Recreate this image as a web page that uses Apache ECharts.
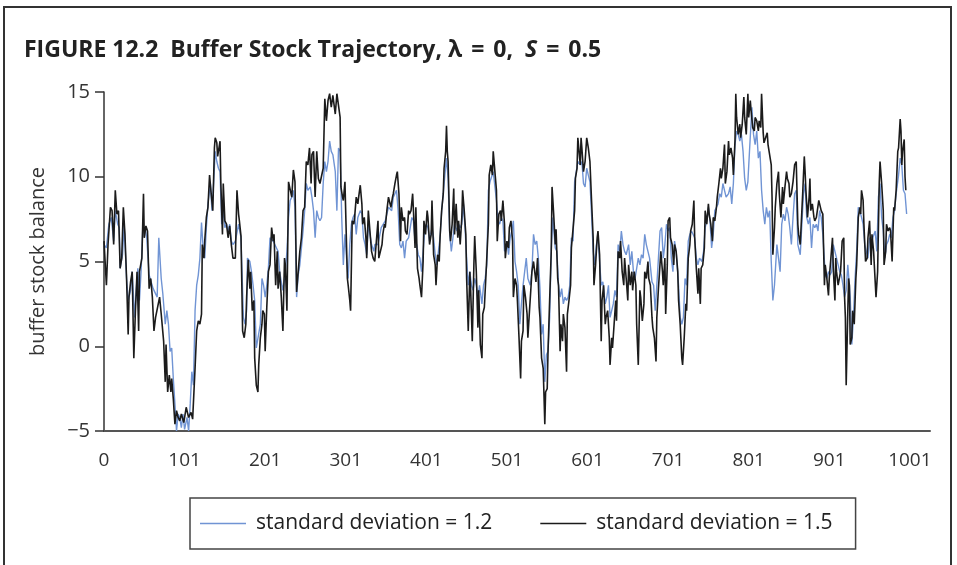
<!DOCTYPE html>
<html>
<head>
<meta charset="utf-8">
<script src="https://cdn.jsdelivr.net/npm/echarts@6/dist/echarts.min.js"></script>
<style>
  html, body { margin: 0; padding: 0; background: #fff; }
  #chart { width: 957px; height: 565px; }
</style>
</head>
<body>
<div id="chart"></div>
<script>
// Period index and buffer stock balance, standard deviation = 1.2
const blueIdx = [0,3,6,9,12,14,17,19,20,23,25,28,30,33,35,38,40,42,44,46,48,51,53,56,58,61,63,66,68,71,73,76,78,80,82,84,86,88,90,92,94,96,98,100,103,105,107,109,111,113,115,117,119,121,123,125,127,129,132,134,136,138,140,142,144,146,148,150,152,154,156,158,160,163,167,170,173,175,177,178,181,183,185,187,189,191,194,196,198,200,202,204,206,208,210,212,214,216,218,220,222,225,227,229,231,233,235,237,239,241,243,245,247,249,251,253,256,258,260,262,264,266,268,270,272,274,276,278,280,282,284,287,289,291,293,295,297,299,301,303,305,307,309,311,313,315,318,320,322,324,326,328,332,335,336,340,344,349,353,357,359,361,363,365,367,369,371,373,375,378,380,382,384,386,388,390,392,394,396,398,400,402,404,407,409,411,413,415,417,419,421,423,425,427,429,431,433,435,438,440,442,444,446,448,450,452,454,456,458,460,462,464,466,469,471,473,475,477,479,481,483,485,487,489,491,493,495,497,500,502,504,506,508,510,512,514,516,518,520,522,524,526,529,531,533,535,537,539,541,543,545,547,549,551,553,555,557,560,562,564,566,568,570,572,574,576,578,580,582,584,586,588,591,593,595,597,599,601,603,605,607,609,611,613,615,617,619,622,624,626,628,630,632,634,636,638,640,642,644,646,648,651,653,655,657,659,661,663,665,667,669,671,673,675,677,680,682,684,686,688,690,692,694,696,698,700,702,704,706,708,710,713,715,717,719,721,723,725,727,729,731,733,735,737,739,742,744,746,748,750,752,754,756,758,760,762,764,766,768,770,772,775,777,779,781,783,785,787,789,791,793,795,797,799,801,804,806,808,810,812,814,816,818,820,822,824,826,828,830,832,835,837,839,841,843,845,847,849,851,853,855,857,859,861,864,866,868,870,872,874,876,878,880,882,884,886,888,890,892,895,897,899,901,903,905,907,909,911,913,915,917,919,921,923,926,928,930,932,934,936,938,940,942,944,946,948,950,952,954,957,959,961,963,965,967,969,971,973,975,977,979,981,983,986,988,990,992,994,996];
const blueVal = [6.0,5.8,7.2,7.6,6.2,8.0,7.2,7.0,4.6,5.4,7.2,4.0,2.7,3.3,4.4,1.7,3.3,4.6,2.7,4.4,6.8,7.0,6.4,4.2,4.2,3.4,3.3,2.9,6.4,4.0,3.1,1.3,2.1,1.3,-0.3,-0.1,-1.9,-3.4,-5.0,-4.0,-4.2,-4.8,-4.0,-4.9,-4.2,-5.0,-3.4,-1.5,-2.3,2.1,3.6,4.2,5.2,7.3,5.8,5.2,7.0,8.4,9.6,8.0,9.6,11.5,10.9,10.5,10.3,7.2,8.0,7.0,7.2,6.8,7.2,6.2,6.0,6.2,7.2,6.4,1.7,1.3,2.1,5.2,5.0,4.4,3.6,2.7,-0.1,-0.1,1.3,4.0,3.6,2.9,3.6,4.6,6.4,6.4,6.2,6.0,5.8,5.6,4.4,3.8,3.3,4.4,5.6,7.6,8.6,8.8,9.2,8.2,2.9,4.2,4.8,5.8,6.8,8.0,9.6,9.2,9.4,8.8,8.0,6.4,8.0,7.6,7.4,7.6,9.6,10.9,10.3,10.9,12.1,11.5,11.3,10.3,8.0,11.7,11.5,7.6,4.8,6.6,5.2,4.0,6.0,7.2,7.6,7.8,6.6,7.6,8.0,7.8,6.4,6.0,5.4,7.2,6.0,5.6,6.0,6.0,7.0,7.4,8.2,8.0,8.8,9.0,9.2,8.0,6.0,5.8,6.2,5.2,6.2,6.4,7.0,7.6,7.4,6.2,6.0,5.4,5.2,4.4,5.6,6.8,7.2,7.0,6.2,7.0,6.4,5.4,4.8,5.6,6.4,8.0,9.0,10.1,11.1,9.9,6.6,5.6,6.4,7.2,6.8,7.2,7.0,7.2,8.4,7.0,5.2,3.6,4.4,3.6,3.3,4.0,3.6,2.9,3.6,2.5,3.6,4.0,4.8,9.2,9.7,9.6,10.3,10.3,8.6,7.4,7.2,7.6,7.4,5.6,6.2,5.4,6.4,6.8,7.4,5.0,4.4,3.6,1.3,2.5,3.6,4.4,5.2,4.0,3.6,4.4,6.6,6.0,6.2,5.2,3.4,0.7,1.3,-2.1,-0.5,-0.3,1.7,5.6,7.6,5.8,5.6,3.6,2.9,3.4,2.5,2.9,2.7,2.9,3.6,6.4,6.2,9.7,9.7,10.9,10.7,10.9,9.6,9.4,10.5,10.1,9.7,7.8,5.6,4.8,6.0,6.4,5.0,3.6,3.8,2.5,2.9,3.6,1.7,2.1,2.5,3.3,2.9,6.0,5.6,6.8,6.0,5.6,5.4,6.0,4.8,5.6,4.4,4.0,4.6,5.2,4.8,5.4,5.2,6.6,6.0,5.6,5.2,3.8,3.6,2.1,3.6,5.2,6.8,7.0,5.2,6.0,7.2,6.8,7.0,5.2,4.4,6.2,5.6,3.6,1.7,1.3,1.7,4.0,3.6,6.2,6.6,6.8,6.8,6.4,5.2,4.8,5.2,5.0,5.6,7.0,7.4,8.2,7.4,5.8,6.6,8.0,8.2,8.4,9.0,8.8,9.6,9.2,8.8,9.0,9.4,8.4,9.6,11.9,12.7,12.5,12.1,12.5,11.5,9.9,9.2,9.7,11.5,14.1,12.5,11.9,12.7,11.1,11.5,9.2,8.0,7.2,8.2,7.6,8.0,5.0,2.7,3.6,6.0,5.2,4.4,7.2,7.8,7.4,8.2,7.8,7.0,6.0,7.6,9.0,9.2,6.0,5.4,7.2,9.0,9.6,7.6,7.2,7.6,5.8,7.2,7.0,7.2,6.8,8.0,7.6,6.6,4.2,4.0,4.4,4.2,4.4,6.0,5.6,5.2,4.8,4.4,4.2,3.6,2.9,3.3,4.8,2.9,0.1,1.7,4.0,5.6,8.2,8.0,7.6,7.2,6.0,5.6,5.2,6.4,6.0,6.4,6.8,5.6,8.8,9.6,7.6,6.8,5.2,6.0,6.2,6.6,6.4,7.6,8.0,9.0,10.1,11.1,10.7,9.2,9.0,7.8];

// Period index and buffer stock balance, standard deviation = 1.5
const blackIdx = [0,3,5,8,10,12,14,16,18,20,22,24,26,28,30,31,33,35,37,39,41,43,44,47,49,50,52,54,56,58,60,62,64,66,69,71,74,76,77,79,81,83,84,86,88,90,92,94,96,99,102,105,108,110,112,113,115,117,119,121,122,124,125,127,129,131,133,135,137,138,140,141,142,144,145,147,148,150,152,154,156,158,160,163,165,167,168,170,172,174,176,177,179,181,182,184,186,187,189,191,192,194,196,197,199,200,202,204,206,208,210,211,213,215,216,218,220,222,224,225,227,229,231,233,235,237,239,241,243,245,247,249,251,253,255,257,258,260,262,264,266,268,270,272,274,276,278,280,282,284,287,289,291,293,294,296,297,299,300,302,303,305,306,308,310,311,313,315,316,318,320,321,323,325,326,328,330,332,334,336,338,340,341,343,345,346,348,349,351,353,354,356,358,359,361,363,364,366,368,369,371,373,374,376,378,379,381,383,384,386,387,389,391,392,394,396,397,399,401,402,404,406,407,409,411,412,414,416,417,419,421,422,424,425,426,427,429,430,432,434,435,437,439,440,442,444,445,447,449,450,452,454,455,457,459,460,462,464,465,467,469,470,472,474,475,477,478,480,482,483,485,487,488,490,492,493,495,497,498,500,502,503,505,507,508,510,512,513,515,517,518,520,521,523,525,526,528,530,531,533,535,536,538,540,541,543,545,546,547,548,550,551,553,555,556,558,560,561,563,564,566,567,569,570,572,574,575,577,579,580,582,584,585,587,588,591,592,593,595,597,599,601,603,605,607,608,610,612,613,615,617,618,620,622,623,625,627,628,630,631,633,635,636,638,640,641,643,645,646,648,650,651,653,655,656,658,660,661,663,665,666,668,670,671,673,675,676,678,680,681,683,685,686,688,689,691,693,694,696,697,699,700,702,703,705,707,708,710,712,713,715,717,718,720,722,723,725,727,728,730,732,733,735,737,738,740,741,743,745,746,748,750,751,753,755,756,758,760,761,763,765,766,768,770,771,773,775,776,778,780,781,783,784,785,787,789,790,792,794,795,797,799,800,802,803,805,807,808,810,812,813,815,816,818,819,821,823,824,826,828,829,830,832,833,835,837,838,840,842,843,845,847,848,850,851,853,855,856,857,859,861,862,864,866,867,869,870,871,873,875,876,877,879,881,882,884,885,887,889,890,892,894,895,897,899,900,902,904,905,907,908,909,911,913,914,916,918,919,920,921,923,924,925,926,928,929,931,933,934,936,938,939,940,942,943,945,947,948,950,952,953,955,957,958,960,962,963,965,967,968,970,971,973,975,976,978,980,981,983,985,986,988,989,990,991,993,994,995];
const blackVal = [6.2,3.6,6.0,8.2,8.0,6.0,9.2,7.8,8.0,4.6,5.2,8.2,6.6,4.0,0.7,2.9,3.8,4.4,-0.7,2.1,4.4,0.9,4.4,5.2,9.0,6.4,7.1,6.8,3.4,4.0,2.9,0.9,1.7,1.6,2.9,1.9,0.3,-2.1,0.1,-2.7,-1.7,-2.7,-1.9,-3.1,-4.6,-3.8,-4.2,-4.4,-4.0,-4.5,-3.6,-4.2,-3.9,-4.3,-4.2,-1.3,0.9,1.5,1.3,1.9,6.0,5.2,6.2,7.6,8.2,10.1,9.0,8.0,11.7,12.3,12.0,11.2,11.2,12.1,9.6,6.6,9.6,7.4,7.2,6.4,7.1,6.0,5.2,5.2,9.2,7.8,7.4,6.5,0.9,0.5,1.3,2.9,5.1,3.4,4.4,2.1,2.7,-0.7,-2.3,-2.7,-1.1,0.5,1.3,2.1,1.9,-0.3,2.3,4.4,4.8,7.0,6.2,6.6,3.6,5.6,3.4,4.4,2.9,0.9,5.2,4.8,2.1,9.7,9.6,8.8,10.4,9.7,3.2,4.4,5.6,6.4,8.0,8.2,10.9,10.7,11.7,9.6,11.3,11.5,8.8,11.5,9.9,9.6,9.7,10.5,14.6,13.3,14.5,14.9,14.1,14.8,13.7,14.9,14.8,13.5,9.4,8.8,8.6,9.7,9.8,4.0,3.6,2.7,2.1,7.4,7.2,7.6,8.8,8.4,8.8,9.5,8.4,7.2,7.6,6.4,5.2,8.0,6.8,5.6,5.2,5.0,6.2,7.4,5.2,5.6,6.0,6.6,7.2,7.0,8.0,8.8,8.6,8.2,8.8,9.0,9.6,10.1,10.3,9.0,6.2,8.2,7.4,7.6,6.8,6.6,8.0,7.8,8.0,9.0,8.0,5.8,8.2,4.6,4.0,3.6,2.9,5.0,7.4,6.6,8.0,7.6,6.0,6.6,8.6,5.4,4.8,3.6,5.4,5.0,6.4,8.0,9.0,10.5,11.5,13.0,11.5,10.9,6.8,6.2,7.2,9.3,6.6,8.4,6.4,7.4,6.0,7.6,9.2,8.0,6.6,4.0,0.9,4.4,3.3,0.3,4.8,6.5,4.4,1.1,3.3,0.1,-0.7,1.9,2.3,4.2,5.2,7.2,10.1,10.7,10.1,11.5,11.6,9.2,6.2,7.8,8.0,7.4,8.6,7.2,5.2,6.2,5.8,7.0,7.4,6.2,2.9,4.0,3.6,2.7,0.5,-1.9,0.3,0.9,3.6,2.9,1.9,0.5,2.1,3.6,4.4,5.0,4.2,3.8,5.2,2.3,1.7,-0.7,-1.3,-2.9,-4.6,-2.7,-2.5,-0.3,2.7,5.6,9.4,7.8,6.0,6.9,4.0,3.6,-0.3,1.3,0.3,1.9,1.1,-1.5,1.9,2.7,3.6,5.8,5.8,8.0,9.9,10.5,12.3,10.7,12.3,11.7,10.3,10.9,12.3,11.7,10.9,8.6,6.4,3.6,4.8,6.4,6.8,5.4,0.3,2.7,3.6,1.3,1.7,2.1,0.5,-1.1,0.5,-0.1,1.3,2.7,1.5,5.6,5.2,6.2,4.4,3.6,5.2,4.0,2.7,4.8,3.6,4.4,3.3,4.4,3.6,1.3,-1.1,3.3,2.9,1.5,2.5,4.4,4.0,5.0,4.0,3.6,1.7,1.1,0.5,-0.9,1.7,3.4,3.3,5.6,4.4,3.6,5.2,1.9,4.8,7.4,7.6,6.4,6.0,4.8,6.0,5.6,4.4,2.7,1.3,-0.7,-1.1,0.5,2.5,2.1,5.2,6.0,6.8,7.2,8.6,6.4,4.6,3.1,4.6,2.5,4.6,4.8,5.8,8.0,7.2,8.4,7.8,7.2,6.2,7.6,7.4,8.2,8.8,9.6,10.5,9.9,10.5,11.9,9.6,10.3,12.1,11.3,11.7,11.1,10.1,12.1,14.9,13.5,12.5,13.1,12.3,13.1,14.7,13.5,12.5,14.9,13.5,14.5,13.9,12.9,12.7,13.5,13.3,12.7,13.3,12.9,14.9,12.6,12.0,11.9,12.6,11.9,11.8,10.7,8.8,5.4,7.0,8.2,9.6,10.3,9.0,7.6,9.4,8.4,9.4,10.3,9.9,9.6,8.8,9.0,9.7,9.6,10.7,10.9,7.2,6.6,6.0,8.0,9.0,11.2,10.3,9.2,7.6,8.8,9.9,8.0,8.4,7.6,7.4,7.6,7.6,8.6,8.6,8.0,7.8,3.6,4.8,4.0,3.0,4.0,4.0,6.4,4.6,2.7,5.2,4.4,3.6,3.5,4.4,6.2,6.4,2.9,1.7,-2.3,2.1,4.0,3.6,0.1,0.5,2.1,1.3,4.0,4.8,7.6,8.2,7.8,9.2,8.6,7.2,5.0,5.2,6.4,7.4,4.8,6.6,5.6,5.6,2.9,4.4,9.6,10.9,9.6,8.0,4.8,5.6,7.2,6.8,7.0,6.8,5.0,8.2,8.0,9.2,11.5,11.7,13.4,12.7,10.7,11.5,12.2,10.0,9.2];

// Axis tick labels along the period axis (one every 100 periods)
const xTickLabels = ['0','101','201','301','401','501','601','701','801','901','1001'];
const yTicks = [-5, 0, 5, 10, 15];

const seriesNames = ['standard deviation = 1.2', 'standard deviation = 1.5'];
const seriesColors = ['#7094d4', '#1b1b1b'];

const FONT = '"Open Sans", "Noto Sans", "DejaVu Sans", sans-serif';

function pairs(idx, val) {
  return idx.map((x, k) => [x, val[k]]);
}

const chart = echarts.init(document.getElementById('chart'), null, { renderer: 'canvas' });

const titleBase = { fontFamily: FONT, fontWeight: 'bold', fontSize: 23, color: '#222' };

chart.setOption({
  backgroundColor: '#ffffff',
  animation: false,
  graphic: [
    {
      type: 'rect',
      shape: { x: 4, y: 7, width: 947, height: 600 },
      style: { fill: 'none', stroke: '#333', lineWidth: 2 },
      silent: true
    }
  ],
  title: {
    left: 19,
    top: 34,
    text: '{b|FIGURE 12.2  Buffer Stock Trajectory, \u03bb}{eq|=}{b|0,}{sp| }{i|S}{eq|=}{b|0.5}',
    textStyle: {
      rich: {
        b: titleBase,
        i: Object.assign({}, titleBase, { fontStyle: 'italic' }),
        eq: Object.assign({}, titleBase, { padding: [0, 9, 0, 9] }),
        sp: Object.assign({}, titleBase, { padding: [0, 3, 0, 3] })
      }
    }
  },
  legend: {
    left: 190,
    top: 498,
    orient: 'horizontal',
    padding: [15, 23, 15, 10],
    itemGap: 48,
    itemWidth: 46,
    itemHeight: 1.5,
    icon: 'rect',
    borderColor: '#444',
    borderWidth: 1.5,
    data: seriesNames,
    textStyle: { fontFamily: FONT, fontSize: 21, color: '#222', padding: [0, 0, 0, 5] }
  },
  grid: { left: 104, right: 27, top: 92, bottom: 134 },
  xAxis: {
    type: 'value',
    min: 0,
    max: 1025,
    interval: 100,
    splitLine: { show: false },
    axisTick: { show: false },
    axisLine: { onZero: false, lineStyle: { color: '#555', width: 2 } },
    axisLabel: {
      fontFamily: FONT,
      fontSize: 19,
      color: '#333',
      margin: 20,
      showMaxLabel: false,
      formatter: function (v) {
        const k = Math.round(v / 100);
        return (v % 100 === 0 && k < xTickLabels.length) ? xTickLabels[k] : '';
      }
    }
  },
  yAxis: {
    type: 'value',
    min: yTicks[0],
    max: yTicks[yTicks.length - 1],
    interval: 5,
    name: 'buffer stock balance',
    nameLocation: 'middle',
    nameGap: 56,
    nameRotate: 90,
    nameTextStyle: { fontFamily: FONT, fontSize: 20, color: '#333' },
    splitLine: { show: false },
    axisLine: { show: true, onZero: false, lineStyle: { color: '#333', width: 1.5 } },
    axisTick: { show: true, inside: false, length: 9, lineStyle: { color: '#333', width: 1.5 } },
    axisLabel: {
      fontFamily: FONT,
      fontSize: 20,
      color: '#333',
      margin: 14,
      formatter: function (v) { return v < 0 ? '\u2212' + Math.abs(v) : String(v); }
    }
  },
  series: [
    {
      name: seriesNames[0],
      type: 'line',
      data: pairs(blueIdx, blueVal),
      showSymbol: false,
      symbol: 'none',
      color: seriesColors[0],
      lineStyle: { color: seriesColors[0], width: 1.4 },
      clip: true,
      z: 2
    },
    {
      name: seriesNames[1],
      type: 'line',
      data: pairs(blackIdx, blackVal),
      showSymbol: false,
      symbol: 'none',
      color: seriesColors[1],
      lineStyle: { color: seriesColors[1], width: 1.6 },
      clip: true,
      z: 3
    }
  ]
});
</script>
</body>
</html>
